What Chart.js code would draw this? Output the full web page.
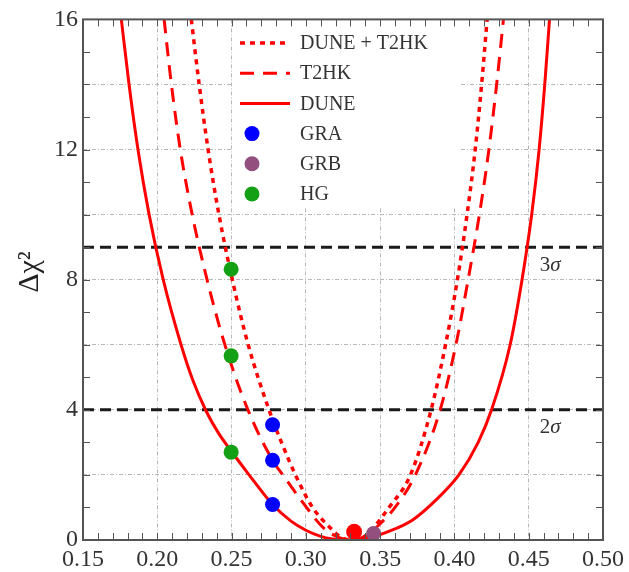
<!DOCTYPE html>
<html>
<head>
<meta charset="utf-8">
<script src="https://cdn.jsdelivr.net/npm/chart.js@4.4.1/dist/chart.umd.min.js"></script>
<style>
  html, body { margin: 0; padding: 0; background: #fff; }
</style>
</head>
<body>
<canvas id="chi2Chart" width="629" height="572"></canvas>
<script>
// Delta chi^2 profiles (x = parameter value, y = delta chi^2)
const comboX = [0.2229, 0.2282, 0.2342, 0.2415, 0.2505, 0.2612, 0.2752, 0.2836, 0.2930, 0.3045, 0.3157, 0.325, 0.333, 0.340, 0.345, 0.356, 0.3704, 0.3843, 0.3940, 0.4020, 0.4085, 0.4140, 0.4183, 0.4220];
const comboY = [16, 14, 12, 10, 8, 6, 4, 3, 2, 1.0, 0.41, 0.05, 0, 0.12, 0.35, 1.0, 2.0, 4, 6, 8, 10, 12, 14, 16];

const t2hkX = [0.2046, 0.2095, 0.2155, 0.2235, 0.2335, 0.2455, 0.261, 0.2776, 0.2845, 0.3005, 0.311, 0.322, 0.332, 0.341, 0.350, 0.360, 0.3737, 0.3904, 0.4010, 0.4092, 0.4168, 0.4232, 0.4284, 0.4330];
const t2hkY = [16, 14, 12, 10, 8, 6, 4, 2.45, 2.0, 1.0, 0.41, 0.08, 0, 0.15, 0.5, 1.0, 2.0, 4, 6, 8, 10, 12, 14, 16];

const duneX = [0.1758, 0.1810, 0.1870, 0.1945, 0.2040, 0.2160, 0.2240, 0.2330, 0.2410, 0.2500, 0.2610, 0.2776, 0.290, 0.300, 0.310, 0.318, 0.326, 0.335, 0.345, 0.355, 0.3716, 0.388, 0.403, 0.416, 0.425, 0.4375, 0.4455, 0.4520, 0.4570, 0.4608, 0.4640];
const duneY = [16, 14, 12, 10, 8, 6, 4.9, 3.95, 3.3, 2.72, 2.05, 1.09, 0.58, 0.3, 0.11, 0.03, 0, 0.02, 0.1, 0.25, 0.61, 1.25, 2.0, 3.0, 4, 6, 8, 10, 12, 14, 16];

// model predictions
const graX = [0.2776, 0.2776, 0.2776];
const graY = [1.09, 2.45, 3.54];
const grbX = [0.3456];
const grbY = [0.2];
const hgX = [0.2497, 0.2497, 0.2497];
const hgY = [2.70, 5.66, 8.32];
const bestX = [0.3325];
const bestY = [0.25];

// confidence levels
const sigmaLevels = [9, 4];
const sigmaLabels = ['3', '2'];

// axes
const xRange = [0.15, 0.50];
const xTickValues = [0.15, 0.20, 0.25, 0.30, 0.35, 0.40, 0.45, 0.50];
const yRange = [0, 16];
const yGridValues = [0, 2, 4, 6, 8, 10, 12, 14, 16];
const yLabelValues = [0, 4, 8, 12, 16];
const xMinorStep = 0.01;
const yMinorStep = 1;

const SERIF = '"Liberation Serif", "Times New Roman", serif';
const RED = '#ff0000';

const toPoints = (xs, ys) => xs.map((x, i) => ({ x: x, y: ys[i] }));

const curve = (label, xs, ys, dash, width) => ({
    label: label,
    data: toPoints(xs, ys),
    showLine: true,
    borderColor: RED,
    borderWidth: width,
    borderDash: dash,
    pointRadius: 0,
    cubicInterpolationMode: 'monotone',
    order: 1
});

const dots = (label, xs, ys, color, radius, extra) => Object.assign({
    label: label,
    data: toPoints(xs, ys),
    showLine: false,
    pointRadius: radius,
    pointBackgroundColor: color,
    pointBorderColor: color,
    pointBorderWidth: 0,
    order: 0
}, extra || {});

const sigmaLine = (level) => ({
    label: '_sigma' + level,
    data: toPoints(xRange, [level, level]),
    showLine: true,
    borderColor: '#1a1a1a',
    borderWidth: 3,
    borderDash: [11, 6],
    pointRadius: 0,
    order: 2
});

const bottomClip = { left: false, top: false, right: false, bottom: 0 };

const datasets = [
    curve('DUNE + T2HK', comboX, comboY, [5, 5], 3.5),
    curve('T2HK', t2hkX, t2hkY, [14, 9], 3),
    curve('DUNE', duneX, duneY, [], 3),
    dots('GRA', graX, graY, '#0000ff', 7.5),
    dots('GRB', grbX, grbY, '#93507f', 7.5, { clip: bottomClip }),
    dots('HG', hgX, hgY, '#14a014', 7.5),
    dots('_best', bestX, bestY, RED, 8, { clip: bottomClip }),
    ...sigmaLevels.map(sigmaLine)
];

// white legend panel inside the plot, then its entries
const legendBox = { left: 232, top: 18, width: 228, height: 190 };
const insideLegend = {
    id: 'insideLegend',
    beforeDatasetsDraw(chart) {
        const ctx = chart.ctx;
        ctx.save();
        ctx.fillStyle = '#fff';
        ctx.fillRect(legendBox.left, legendBox.top, legendBox.width, legendBox.height);
        ctx.restore();
    },
    afterDatasetsDraw(chart) {
        const ctx = chart.ctx;
        const items = chart.data.datasets.filter(d => !d.label.startsWith('_'));
        const sampleL = 240, sampleR = 290, textX = 300;
        let rowY = 43;
        ctx.save();
        ctx.font = '20px ' + SERIF;
        ctx.textBaseline = 'middle';
        items.forEach(d => {
            if (d.showLine) {
                ctx.strokeStyle = d.borderColor;
                ctx.lineWidth = d.borderWidth;
                ctx.setLineDash(d.borderDash);
                ctx.beginPath();
                ctx.moveTo(sampleL, rowY);
                ctx.lineTo(sampleR, rowY);
                ctx.stroke();
                ctx.setLineDash([]);
            } else {
                ctx.fillStyle = d.pointBackgroundColor;
                ctx.beginPath();
                ctx.arc(sampleL + 12, rowY, d.pointRadius, 0, Math.PI * 2);
                ctx.fill();
            }
            ctx.fillStyle = '#333';
            ctx.fillText(d.label, textX, rowY + 1);
            rowY += 30.2;
        });
        ctx.restore();
    }
};

// frame, inward minor ticks, sigma tags and the y title
const frameTicks = {
    id: 'frameTicks',
    afterDraw(chart) {
        const { ctx, chartArea: a, scales: { x, y } } = chart;
        ctx.save();
        ctx.strokeStyle = '#555';
        ctx.lineWidth = 1;
        ctx.beginPath();
        const nx = Math.round((xRange[1] - xRange[0]) / xMinorStep);
        for (let i = 1; i < nx; i++) {
            const px = Math.round(x.getPixelForValue(xRange[0] + i * xMinorStep)) + 0.5;
            ctx.moveTo(px, a.bottom); ctx.lineTo(px, a.bottom - 7);
            ctx.moveTo(px, a.top); ctx.lineTo(px, a.top + 7);
        }
        const ny = Math.round((yRange[1] - yRange[0]) / yMinorStep);
        for (let i = 1; i < ny; i++) {
            const py = Math.round(y.getPixelForValue(yRange[0] + i * yMinorStep)) + 0.5;
            ctx.moveTo(a.left, py); ctx.lineTo(a.left + 7, py);
            ctx.moveTo(a.right, py); ctx.lineTo(a.right - 7, py);
        }
        ctx.stroke();
        ctx.lineWidth = 2;
        ctx.strokeStyle = '#555';
        ctx.strokeRect(a.left, a.top, a.width, a.height);

        // n-sigma tags under each dashed level
        ctx.fillStyle = '#333';
        ctx.textBaseline = 'middle';
        sigmaLevels.forEach((lvl, i) => {
            const py = y.getPixelForValue(lvl) + 18;
            const px = x.getPixelForValue(0.4575);
            ctx.font = '21px ' + SERIF;
            ctx.fillText(sigmaLabels[i], px, py);
            const w = ctx.measureText(sigmaLabels[i]).width;
            ctx.font = 'italic 21px ' + SERIF;
            ctx.fillText('\u03c3', px + w, py);
        });

        // y axis title
        ctx.translate(30, 272);
        ctx.rotate(-Math.PI / 2);
        ctx.font = '30px ' + SERIF;
        ctx.textAlign = 'center';
        ctx.fillStyle = '#222';
        ctx.fillText('\u0394\u03c7\u00b2', 0, 0);
        ctx.restore();
    }
};

const gridStyle = { color: '#b8b8b8', lineWidth: 1, drawTicks: false };
const borderStyle = { display: false, dash: [4, 2, 1, 2] };

new Chart(document.getElementById('chi2Chart'), {
    type: 'scatter',
    data: { datasets: datasets },
    options: {
        responsive: false,
        animation: false,
        layout: { padding: { top: 17, right: 24, left: 0, bottom: 0 } },
        plugins: {
            legend: { display: false },
            tooltip: { enabled: false }
        },
        scales: {
            x: {
                type: 'linear',
                min: xRange[0],
                max: xRange[1],
                afterBuildTicks: (s) => { s.ticks = xTickValues.map(v => ({ value: v })); },
                afterFit: (s) => { s.height = 32; },
                grid: gridStyle,
                border: borderStyle,
                ticks: {
                    padding: 5,
                    color: '#333',
                    font: { family: SERIF, size: 24 },
                    maxRotation: 0,
                    callback: (v) => Number(v).toFixed(2)
                }
            },
            y: {
                type: 'linear',
                min: yRange[0],
                max: yRange[1],
                afterBuildTicks: (s) => { s.ticks = yGridValues.map(v => ({ value: v })); },
                afterFit: (s) => { s.width = 83; },
                grid: gridStyle,
                border: borderStyle,
                ticks: {
                    padding: 5,
                    color: '#333',
                    font: { family: SERIF, size: 24 },
                    callback: (v) => yLabelValues.includes(v) ? String(v) : ''
                }
            }
        }
    },
    plugins: [insideLegend, frameTicks]
});
</script>
</body>
</html>
